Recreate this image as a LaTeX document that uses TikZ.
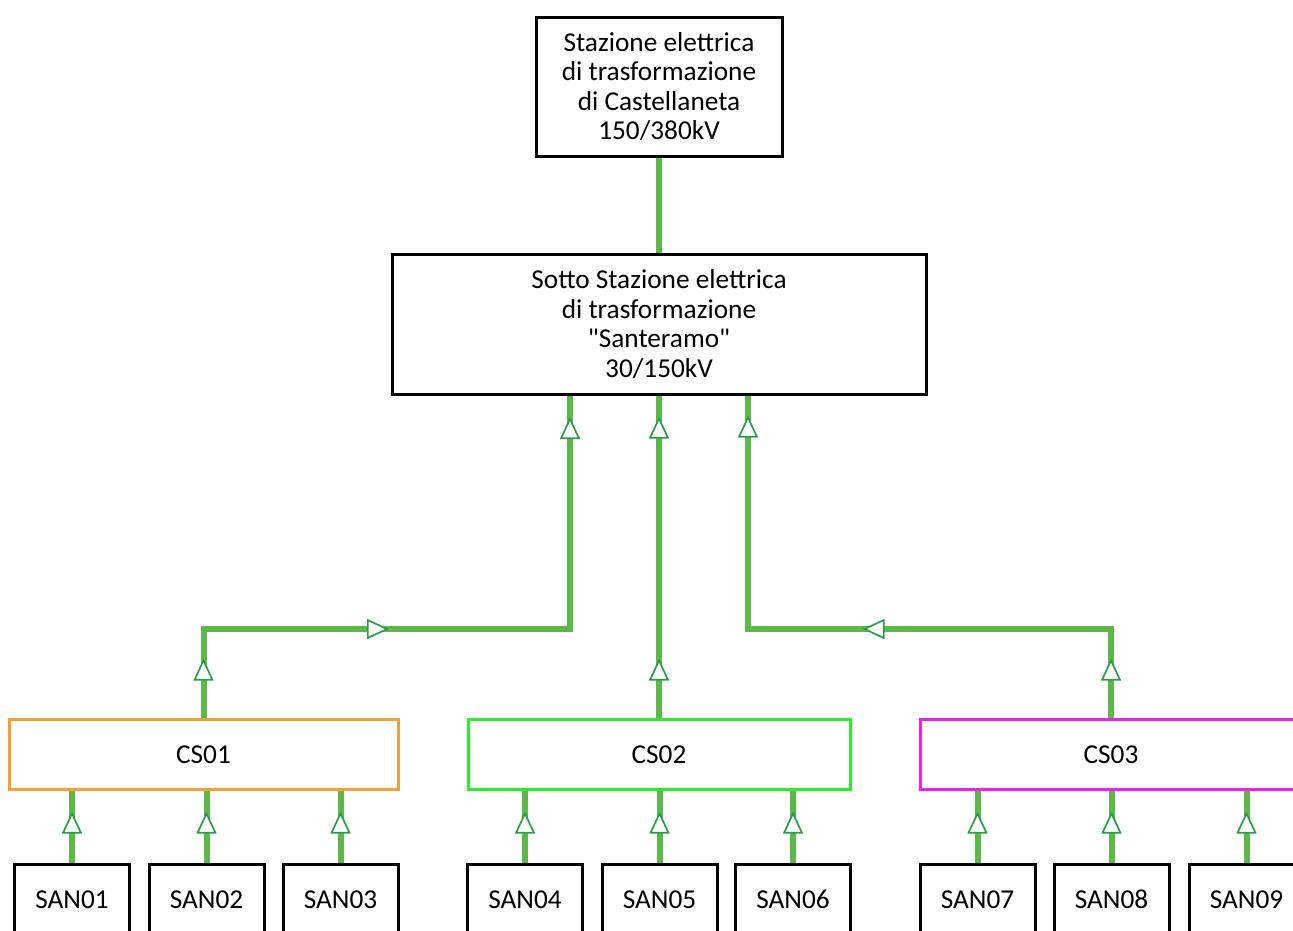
\documentclass[tikz,border=0pt]{standalone}
\usepackage{fontspec}
\setmainfont{Carlito}[Ligatures=TeXOff]
\usepackage{tikz}
\usetikzlibrary{arrows.meta, decorations.markings}
\usepackage{xcolor}
\definecolor{linegreen}{HTML}{5CB848}
\definecolor{tipgreen}{HTML}{2E9B4A}
\definecolor{csorange}{HTML}{F5A035}
\definecolor{csgreen}{HTML}{2BEE2B}
\definecolor{csmagenta}{HTML}{F01EF0}
\tikzset{
  station/.style={draw=black, line width=3pt, fill=white, align=center, inner sep=0pt},
  cabin/.style={draw, line width=3pt, fill=white, minimum width=382pt, minimum height=70pt,
    inner sep=0pt, text height=18pt, text depth=0pt},
  plant/.style={draw=black, line width=3pt, fill=white, minimum width=115pt, minimum height=70pt,
    inner sep=0pt, text height=18pt, text depth=0pt},
  flowtip/.tip={Triangle[length=22pt, width=20pt, line width=1.7pt, color=tipgreen, fill=white]},
  cable/.style={draw=linegreen, line width=6pt},
  flowat/.style={postaction={decorate, decoration={markings, mark=at position #1 with {\arrow{flowtip}}}}},
}

\begin{document}
\begin{tikzpicture}[x=1pt, y=-1pt, font=\fontsize{27.3}{29.5}\selectfont]
    \useasboundingbox (0,0) rectangle (1293,930);
    % Stazioni
    \node[station, minimum width=246pt, minimum height=139pt] (castellaneta) at (659,86.5)
        {Stazione elettrica\\di trasformazione\\di Castellaneta\\150/380kV};
    \node[station, minimum width=534pt, minimum height=140pt] (santeramo) at (659,324)
        {Sotto Stazione elettrica\\di trasformazione\\"Santeramo"\\30/150kV};
    % Cabine di smistamento
    \node[cabin, draw=csorange, minimum width=389pt] (cs1) at (203.5,754) {CS01};
    \node[cabin, draw=csgreen] (cs2) at (659,754) {CS02};
    \node[cabin, draw=csmagenta] (cs3) at (1111,754) {CS03};
    % Impianti
    \node[plant] (san1) at (72,899) {SAN01};
    \node[plant] (san2) at (206.5,899) {SAN02};
    \node[plant] (san3) at (340.5,899) {SAN03};
    \node[plant] (san4) at (525,899) {SAN04};
    \node[plant] (san5) at (659.5,899) {SAN05};
    \node[plant] (san6) at (793,899) {SAN06};
    \node[plant] (san7) at (977.5,899) {SAN07};
    \node[plant] (san8) at (1111.5,899) {SAN08};
    \node[plant] (san9) at (1246.5,899) {SAN09};
    % Punti di arrivo e di raccordo
    \coordinate (in1) at ([xshift=-89pt]santeramo.south);
    \coordinate (in3) at ([xshift=89pt]santeramo.south);
    \coordinate (bus1) at (570,629);
    \coordinate (bus3) at (748,629);
    % Collegamenti
    \draw[cable] (castellaneta) -- (santeramo);
    \draw[cable, flowat=59pt, flowat=274pt, flowat=667pt] (cs1.north) |- (bus1) -- (in1);
    \draw[cable, flowat=59pt, flowat=301pt] (cs2.north) -- (santeramo.south);
    \draw[cable, flowat=59pt, flowat=337pt, flowat=665pt] (cs3.north) |- (bus3) -- (in3);
    \foreach \s/\c in {1/1, 2/1, 3/1, 4/2, 5/2, 6/2, 7/3, 8/3, 9/3}
        \draw[cable, flowat=51pt] (san\s.north) -- (san\s.north |- cs\c.south);
\end{tikzpicture}
\end{document}
